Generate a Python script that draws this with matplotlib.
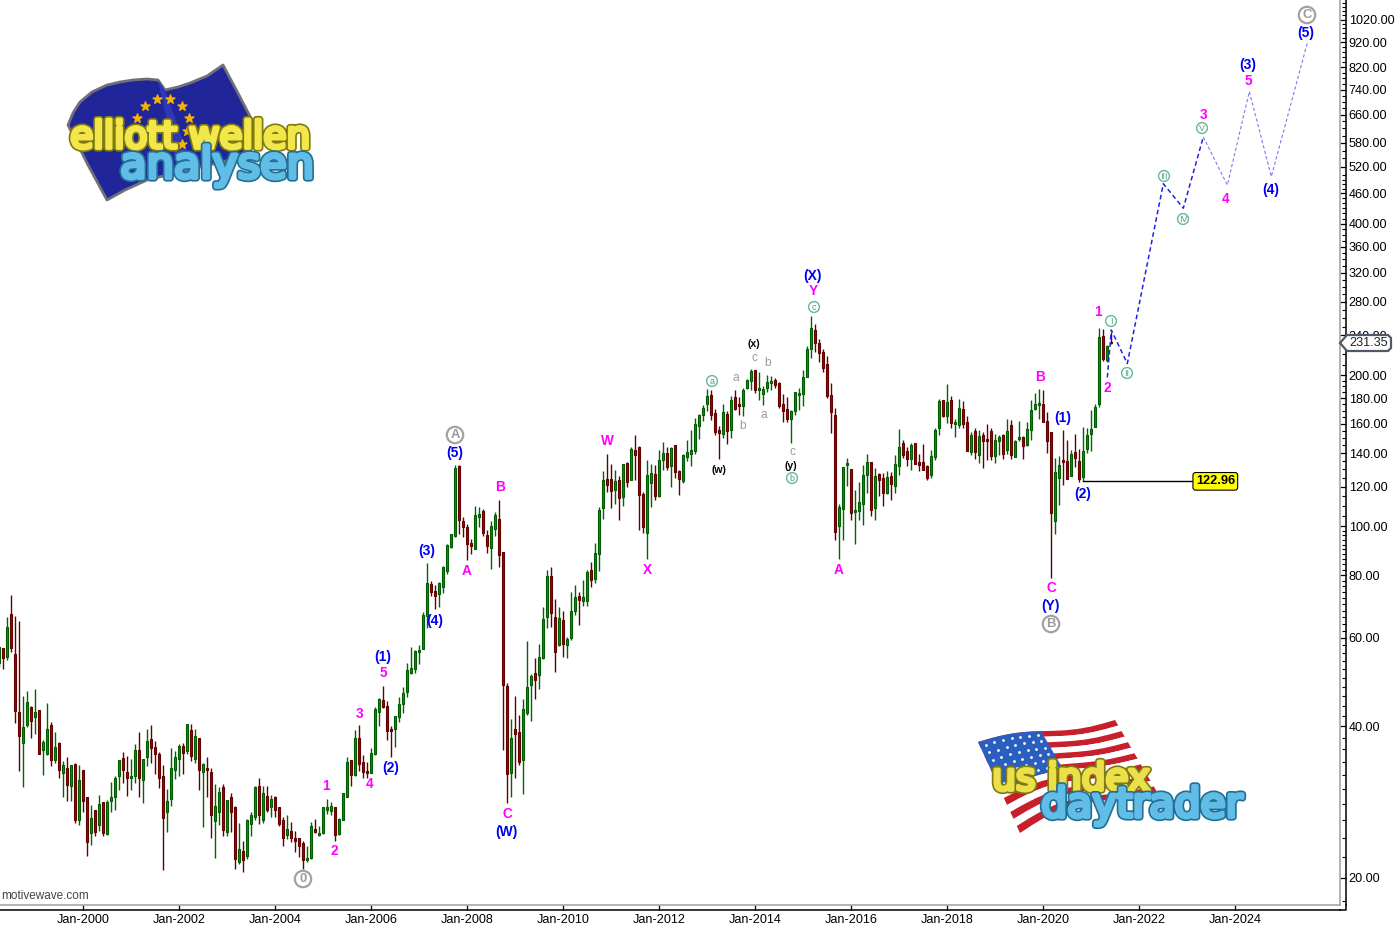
import numpy as np
import pandas as pd
import matplotlib
matplotlib.use("Agg")
import matplotlib.pyplot as plt
import matplotlib.patheffects as pe
from matplotlib.patches import Circle, Polygon
from matplotlib.ticker import FixedLocator, NullFormatter, FuncFormatter

plt.rcParams['font.family'] = ['Liberation Sans', 'DejaVu Sans']

# monthly candles, first one is Apr-1998
highs = [57.6,57.3,66.0,73.0,66.3,64.8,46.0,47.1,43.9,47.5,43.1,37.6,44.6,40.8,39.0,37.3,34.1,34.8,33.5,33.8,
 33.5,32.8,29.0,27.9,27.3,29.2,28.3,28.6,31.0,31.8,34.3,35.6,34.9,34.5,36.9,39.0,34.5,39.6,40.2,37.4,
 35.6,33.5,30.0,36.2,35.7,36.9,37.1,40.4,40.4,39.6,37.9,33.8,34.8,33.1,30.7,30.3,30.7,28.6,29.5,27.8,
 25.7,23.7,26.2,27.0,30.5,31.6,30.5,30.4,29.2,29.1,27.6,26.4,26.6,25.8,24.8,24.0,23.7,23.1,25.8,26.2,
 25.3,27.6,28.7,28.3,27.6,26.3,29.5,34.8,34.3,39.4,40.2,35.1,34.0,36.2,43.7,45.6,48.2,45.0,40.0,42.0,
 45.8,48.0,53.4,57.6,56.8,58.1,67.6,84.5,77.8,76.4,77.5,83.4,92.2,96.5,132.4,132.4,104.3,101.0,94.3,109.8,
 109.3,108.3,98.3,102.4,106.8,112.8,88.9,48.8,41.4,46.0,42.1,45.4,59.1,50.9,54.8,58.4,69.1,81.9,83.0,71.7,
 69.1,67.9,60.2,74.0,76.5,74.0,78.2,81.9,84.9,92.6,109.3,128.8,139.3,133.0,129.4,125.9,133.0,134.2,143.8,151.9,
 144.4,117.0,135.5,133.0,132.4,141.8,147.1,143.8,143.8,145.1,129.4,139.3,148.5,155.4,164.2,167.2,174.3,187.6,186.7,171.1,
 158.3,175.1,169.5,181.6,186.7,180.8,188.4,196.3,205.6,204.6,202.7,190.1,199.9,199.0,197.2,193.6,183.3,180.8,170.3,185.0,
 188.4,204.6,228.4,262.0,253.0,235.8,225.2,218.1,192.7,171.8,110.8,131.2,136.7,130.0,118.1,122.5,132.4,139.3,134.2,130.6,
 127.6,127.6,128.8,128.2,138.7,156.2,148.5,143.8,146.5,146.5,139.3,145.8,132.4,141.8,156.9,179.1,178.3,191.8,181.6,163.4,
 179.1,177.5,165.7,154.0,156.9,155.4,154.0,159.7,156.9,152.5,151.9,152.5,163.4,162.7,148.5,162.0,151.2,161.2,178.3,184.1,
 187.6,186.7,168.8,154.0,136.7,137.9,155.4,148.5,141.8,152.5,142.4,157.6,156.9,170.3,175.1,248.0,247.0,229.4,244.0]

lows = [52.5,52.0,54.2,56.3,40.6,32.6,30.3,39.8,37.9,38.7,35.3,32.0,35.1,33.3,33.8,31.6,28.9,28.4,28.4,25.7,
 25.4,27.0,22.1,23.2,24.2,24.8,24.2,24.3,27.0,27.3,29.9,30.9,29.1,29.9,30.9,28.9,28.2,33.3,33.8,32.2,
 30.2,20.7,24.7,27.8,31.4,31.9,32.2,35.3,34.1,33.8,29.9,25.2,29.0,24.0,21.9,25.4,24.2,24.2,24.7,20.8,
 21.3,20.5,21.8,24.2,26.0,25.6,25.7,27.0,26.4,26.4,25.3,23.1,23.9,23.5,22.5,22.0,20.8,21.5,21.8,24.5,
 24.2,24.4,26.8,26.6,23.7,24.3,26.0,28.9,30.5,31.8,32.6,31.5,31.6,32.3,35.1,40.0,43.5,37.6,34.8,36.4,
 40.8,42.5,45.8,50.9,51.1,53.2,57.1,62.8,72.7,68.5,69.1,73.7,80.4,90.5,95.2,96.5,95.2,85.7,88.1,90.1,
 99.7,95.6,88.5,82.3,95.6,83.0,35.9,28.2,29.0,31.6,33.5,29.3,42.1,41.0,45.4,47.5,54.5,62.8,63.0,51.3,
 57.8,55.0,54.8,59.4,66.6,63.6,69.4,69.4,75.7,77.1,81.5,103.4,117.0,108.8,110.8,102.9,109.8,119.7,123.6,123.6,
 98.3,96.9,86.1,109.3,112.8,114.4,129.4,129.4,119.7,124.7,115.4,121.9,134.9,131.8,139.3,149.2,162.0,169.5,162.7,151.9,
 136.1,149.9,145.8,149.9,170.3,166.5,165.7,187.6,186.7,184.1,178.3,174.3,185.0,186.7,188.4,171.8,161.2,161.2,146.5,166.5,
 170.3,173.5,198.1,216.0,222.0,212.0,202.7,180.0,153.3,93.9,86.1,93.9,120.3,102.9,92.2,102.9,100.5,116.5,104.8,102.9,
 114.9,109.8,115.9,112.8,116.5,126.5,136.7,131.8,129.4,133.0,128.8,129.4,123.6,124.7,135.5,151.9,164.9,160.4,156.9,150.5,
 156.9,156.9,141.2,138.7,136.1,133.6,130.6,135.5,135.5,133.6,138.7,136.1,139.3,136.1,137.4,147.8,136.1,144.4,148.5,170.3,
 163.4,161.2,139.9,78.9,96.5,110.3,120.8,124.2,125.9,131.2,122.5,122.96,139.9,141.2,157.6,173.0,213.0,212.0,231.0]

opens = [53.5,57.3,55.0,66.9,55.7,42.7,37.0,40.2,43.7,41.8,43.1,35.9,35.3,40.2,34.3,37.0,32.3,33.0,30.4,33.7,
 26.1,32.8,28.9,24.5,27.3,25.4,28.3,24.4,28.4,29.0,31.9,34.6,32.5,31.6,31.8,35.9,31.3,34.8,37.8,36.4,
 35.3,31.8,27.0,28.7,32.8,34.5,36.6,35.7,39.4,34.5,37.9,32.5,33.1,32.5,25.9,27.0,30.3,24.6,28.9,27.7,
 21.5,22.6,22.1,25.6,26.4,30.4,26.0,29.1,27.7,29.0,27.6,26.0,24.3,24.8,24.0,24.0,23.4,21.7,21.9,25.0,
 24.3,24.5,27.3,27.2,27.6,24.4,26.0,29.0,34.3,32.0,37.9,34.0,32.6,32.3,35.3,42.7,45.2,43.9,39.6,39.6,
 41.8,44.4,46.9,51.1,52.0,56.3,57.1,66.3,76.8,74.3,73.4,75.7,81.5,90.9,95.6,131.8,102.4,99.7,92.6,90.1,
 104.3,107.3,96.0,90.5,98.8,103.4,88.9,48.2,32.3,39.6,39.0,34.3,42.5,48.4,51.1,50.6,54.8,66.0,79.6,66.0,
 58.1,65.1,58.1,60.0,67.9,72.7,71.1,71.1,81.9,78.6,88.1,108.8,124.1,124.1,118.1,123.6,114.4,133.6,123.6,141.8,
 143.8,115.9,96.9,121.9,127.0,114.9,135.5,139.9,131.8,145.1,128.8,123.0,137.4,139.3,141.2,158.3,166.5,175.1,182.4,168.0,
 155.4,152.5,167.2,155.4,180.8,175.1,173.5,188.4,194.5,204.6,186.7,183.3,188.4,192.7,196.0,192.7,175.1,171.1,163.4,169.5,
 182.4,183.3,198.1,225.2,245.7,231.4,222.2,210.3,182.4,166.5,100.0,108.3,132.4,130.0,106.8,107.3,110.8,126.5,134.2,108.8,
 127.0,124.7,116.5,125.9,120.3,131.8,146.5,141.2,136.1,146.5,134.2,134.2,131.8,126.5,137.4,156.9,178.3,165.7,178.3,159.7,
 159.0,171.1,161.2,140.5,154.7,138.7,151.9,149.2,154.7,138.0,147.8,151.9,141.8,158.9,137.4,149.2,150.5,145.1,155.4,171.1,
 174.3,175.1,162.0,154.0,102.4,124.7,135.5,134.9,125.9,140.5,134.9,125.3,142.4,152.5,157.6,175.1,239.0,214.2,233.0]

closes = [57.6,54.7,63.1,57.3,42.9,38.2,39.8,44.8,41.0,42.7,35.3,37.3,39.6,34.3,36.4,32.8,33.5,30.6,33.5,26.0,
 31.3,28.4,23.5,26.3,24.7,28.0,24.5,28.3,29.0,31.5,34.3,32.8,31.6,31.9,35.9,31.6,34.5,37.4,36.2,35.3,
 31.6,26.3,28.4,33.0,34.8,36.6,35.4,40.4,34.9,38.2,32.8,33.7,32.8,26.6,27.8,29.6,24.9,28.6,27.0,21.8,
 22.8,21.7,26.1,26.6,30.3,26.6,29.5,27.3,28.7,27.3,25.6,24.0,25.0,24.0,23.7,23.1,21.7,21.9,25.3,24.6,
 24.5,27.6,27.7,27.8,24.3,26.2,29.5,34.0,32.0,37.9,33.7,32.5,32.3,35.4,43.3,45.4,43.7,39.2,39.2,42.0,
 44.4,46.7,51.8,52.3,56.5,56.8,66.6,77.1,74.0,72.7,77.1,83.0,91.8,96.5,130.6,102.9,99.7,92.2,91.3,105.3,
 105.8,96.9,91.3,100.1,105.3,87.7,48.4,32.1,37.9,38.7,34.0,43.3,47.9,50.4,49.5,55.0,65.4,79.6,67.2,56.3,
 65.7,58.4,59.7,67.9,72.4,71.4,72.4,81.1,78.2,88.5,107.8,123.6,121.0,117.5,123.0,113.8,133.0,122.5,142.4,138.7,
 115.4,99.7,126.5,127.6,114.9,135.5,139.9,131.2,143.1,128.2,124.2,138.7,140.5,141.8,159.7,166.5,171.8,181.6,166.5,154.0,
 153.3,168.8,154.7,178.3,171.1,173.5,186.7,195.4,203.7,186.7,188.4,187.6,193.6,194.5,191.0,173.5,169.5,163.4,169.5,185.0,
 184.2,198.1,225.2,248.0,231.4,221.2,206.5,181.6,168.8,97.4,109.3,131.2,133.6,106.3,107.8,111.8,126.5,134.2,107.8,125.9,
 123.6,116.5,125.3,121.4,133.0,143.8,138.7,136.1,145.1,133.0,132.4,129.4,124.7,137.9,155.4,177.5,165.7,176.7,160.4,161.2,
 171.9,159.7,141.2,151.9,140.5,151.2,147.8,147.8,138.0,148.5,150.5,139.3,154.7,138.7,147.8,150.5,144.4,156.2,170.3,175.1,
 175.9,161.2,147.8,106.3,128.2,132.4,134.2,124.2,139.3,136.7,124.2,141.2,151.9,156.2,172.7,238.0,215.0,228.4,231.35]

months = pd.date_range("1998-04-01", periods=340, freq="MS")
last_price = 231.35
level_price = 122.96

# projected wave count, month index and price
proj_dark_x = [277, 278, 282, 291, 296, 301]
proj_dark_y = [198, 246, 211, 481, 430, 596]
proj_light_x = [301, 307, 312.5, 318, 327]
proj_light_y = [596, 478, 734, 497, 917]

price_ticks = [20, 40, 60, 80, 100, 120, 140, 160, 180, 200, 240, 280, 320, 360, 400,
               460, 520, 580, 660, 740, 820, 920, 1020]
minor_ticks = list(range(18, 100, 2)) + list(range(100, 200, 5)) + \
              list(range(200, 500, 10)) + list(range(500, 1120, 20))

W, H = 1399, 927
fig = plt.figure(figsize=(W / 100, H / 100), dpi=100, facecolor='white')
ax = fig.add_axes([0, (H - 905) / H, 1340 / W, 905 / H])
ax.set_yscale('log')
ax.set_xlim(0.17, 335.17)
ax.set_ylim(17.64, 1116.5)

x = np.arange(len(highs))
o = np.array(opens)
c = np.array(closes)
up = c >= o
wick = np.where(up, '#006400', '#650000')
ax.vlines(x, lows, highs, colors=wick, lw=1.0, zorder=2)
ax.bar(x[up], (c - o)[up], bottom=o[up], width=0.56, color='#0b8f14', edgecolor='#005c00', lw=0.8, zorder=3)
ax.bar(x[~up], (o - c)[~up], bottom=c[~up], width=0.56, color='#aa0000', edgecolor='#650000', lw=0.8, zorder=3)

ax.plot(proj_dark_x, proj_dark_y, color='#2020e8', lw=1.1, ls=(0, (3, 2)), zorder=4)
ax.plot(proj_light_x, proj_light_y, color='#7c7cf4', lw=0.8, ls=(0, (3, 2)), zorder=4)
ax.plot([271, 299], [level_price, level_price], color='black', lw=1.0, zorder=4)
ax.text(304, level_price, f"{level_price:.2f}", fontsize=9.2, fontweight='bold', ha='center', va='center',
        bbox=dict(boxstyle='round,pad=0.22', fc='#ffff00', ec='black', lw=0.8), zorder=5)

# axes, the black lines sit a few pixels outside the grey frame
for s in ['top', 'left']:
    ax.spines[s].set_visible(False)
ax.spines['right'].set_position(('outward', 4.4))
ax.spines['bottom'].set_position(('outward', 3.6))
ax.spines['right'].set_linewidth(1.1)
ax.spines['bottom'].set_linewidth(1.1)
ax.axvline(335.17, color='#a8a8a0', lw=1.2, clip_on=False)
ax.axhline(17.64, color='#a8a8a0', lw=1.2, clip_on=False)

ax.yaxis.tick_right()
ax.yaxis.set_major_locator(FixedLocator(price_ticks))
ax.yaxis.set_major_formatter(FuncFormatter(lambda v, p: f"{v:.2f}"))
ax.yaxis.set_minor_locator(FixedLocator(minor_ticks))
ax.yaxis.set_minor_formatter(NullFormatter())
ax.tick_params(axis='y', which='major', direction='in', length=4.4, width=0.9, pad=1.8, labelsize=9.1)
ax.tick_params(axis='y', which='minor', direction='in', length=2.6, width=0.8)

tick_idx = list(range(21, 330, 24))
ax.set_xticks(tick_idx)
ax.set_xticklabels([months[i].strftime("%b-%Y") for i in tick_idx])
ax.tick_params(axis='x', direction='in', length=3.6, width=0.9, pad=3, labelsize=9.1)

# overlay in picture pixels for wave labels and logos
ov = fig.add_axes([0, 0, 1, 1], facecolor='none')
ov.set_xlim(0, W)
ov.set_ylim(H, 0)
ov.axis('off')
ov.plot([1340, 1346.2, 1346.2], [910, 910, 905], color='black', lw=1.1)

blue_labels = [("(X)", 812, 276), ("(5)", 455, 453), ("(3)", 427, 551), ("(4)", 435, 621), ("(1)", 383, 657),
               ("(2)", 391, 768), ("(W)", 506, 832), ("(1)", 1063, 418), ("(2)", 1083, 494), ("(Y)", 1051, 606),
               ("(3)", 1248, 65), ("(4)", 1271, 190), ("(5)", 1306, 33)]
pink_labels = [("Y", 813, 291), ("1", 326, 786), ("2", 334, 851), ("3", 359, 714), ("4", 370, 784), ("5", 383, 673),
               ("A", 467, 571), ("B", 500, 487), ("C", 507, 814), ("W", 607, 441), ("X", 647, 570), ("A", 839, 570),
               ("B", 1040, 377), ("C", 1051, 588), ("1", 1098, 312), ("2", 1107, 388), ("3", 1203, 115),
               ("4", 1226, 199), ("5", 1248, 81)]
black_labels = [("(x)", 754, 344), ("(w)", 719, 470), ("(y)", 791, 466)]
grey_labels = [("c", 754, 358), ("b", 768, 363), ("a", 736, 378), ("b", 743, 426), ("a", 764, 415), ("c", 792, 452)]
big_circles = [("0", 303, 879), ("A", 455, 435), ("B", 1051, 624), ("C", 1307, 15)]
small_circles = [("a", 712, 381), ("b", 792, 478), ("c", 814, 307), ("I", 1111, 321), ("II", 1127, 373),
                 ("III", 1164, 176), ("IV", 1183, 219), ("V", 1202, 128)]

for t, px, py in blue_labels:
    ov.text(px, py, t, color='#0000f0', fontsize=10, fontweight='bold', ha='center', va='center')
for t, px, py in pink_labels:
    ov.text(px, py, t, color='#ff00ff', fontsize=9.8, fontweight='bold', ha='center', va='center')
for t, px, py in black_labels:
    ov.text(px, py, t, color='black', fontsize=7.6, fontweight='bold', ha='center', va='center')
for t, px, py in grey_labels:
    ov.text(px, py, t, color='#9a9a9a', fontsize=8.6, ha='center', va='center')
for t, px, py in big_circles:
    ov.add_patch(Circle((px, py), 8.2, fc='white', ec='#a2a2a2', lw=1.6))
    ov.text(px, py, t, color='#9a9a9a', fontsize=9.4, fontweight='bold', ha='center', va='center')
for t, px, py in small_circles:
    ov.add_patch(Circle((px, py), 5.4, fc='white', ec='#62b898', lw=1.0))
    ov.text(px, py, t, color='#5a9a80', fontsize=6.4, ha='center', va='center')

ov.text(1, 896, "motivewave.com", color='#444444', fontsize=8.5, ha='left', va='center')

# last price tag
tag = [(1340, 343), (1347, 335), (1388, 335), (1391, 338), (1391, 348), (1388, 351), (1347, 351)]
ov.add_patch(Polygon(tag, closed=True, fc='white', ec='#4f5a66', lw=1.6, zorder=6))
ov.text(1369, 343.5, f"{last_price:.2f}", color='#222222', fontsize=9.1, ha='center', va='center', zorder=7)

def logo_text(px, py, t, size, fill, edge, z):
    ov.text(px, py, t, fontsize=size, color=fill, ha='center', va='baseline', zorder=z, family='DejaVu Sans',
            path_effects=[pe.Stroke(linewidth=5.2, foreground=edge, joinstyle='round'),
                          pe.Stroke(linewidth=2.8, foreground=fill, joinstyle='round'), pe.Normal()])

# elliott wellen logo
eu = [(68, 125), (73, 113), (80, 102), (92, 92), (107, 85), (120, 82), (133, 80), (147, 79), (158, 80), (165, 90),
      (178, 87), (190, 83), (207, 76), (223, 65), (240, 97), (257, 130), (250, 150), (230, 160), (205, 166),
      (183, 171), (147, 180), (125, 190), (107, 200), (88, 165)]
ov.add_patch(Polygon(eu, closed=True, fc='#20259a', ec='#70707a', lw=2, joinstyle='round', zorder=1))
ov.add_patch(Polygon([(158, 80), (165, 90), (190, 160), (178, 172)], closed=True, fc='#2f37b8', ec='none', zorder=1))
star_x = [145, 157, 170, 182, 189, 187, 182, 137]
star_y = [106, 99, 99, 106, 118, 131, 144, 118]
ov.scatter(star_x, star_y, marker='*', s=45, color='#f6b400', zorder=2)
logo_text(190, 148, "elliott wellen", 27, '#f3e64a', '#7e7a10', 3)
logo_text(217, 178, "analysen", 31, '#62bde6', '#1f6f96', 4)

# us flag logo, stripes on a bent four corner sheet
def flag_point(u, v):
    tl, tr, br, bl = np.array([978, 742]), np.array([1115, 720]), np.array([1157, 792]), np.array([1020, 833])
    p = (1 - v) * ((1 - u) * tl + u * tr) + v * ((1 - u) * bl + u * br)
    p = p + np.array([0, -3 * np.sin(2 * np.pi * u) - 10 * v * np.sin(np.pi * u)])
    return p

def flag_patch(u0, u1, v0, v1, col):
    us = np.linspace(u0, u1, 12)
    top = [flag_point(u, v0) for u in us]
    bot = [flag_point(u, v1) for u in us[::-1]]
    ov.add_patch(Polygon(top + bot, closed=True, fc=col, ec='none', zorder=1))

n_stripes = 13
for k in range(n_stripes):
    flag_patch(0, 1, k / n_stripes, (k + 1) / n_stripes, '#c8202a' if k % 2 == 0 else 'white')
flag_patch(0, 0.46, 0, 7 / 13, '#2a5fc0')
for a in np.linspace(0.04, 0.42, 7):
    for b in np.linspace(0.05, 0.48, 6):
        p = flag_point(a, b)
        ov.scatter(p[0], p[1], s=4, color='white', marker='o', lw=0, zorder=2)
logo_text(1071, 790, "us index", 27, '#ece04a', '#7e7a10', 3)
logo_text(1142, 817, "daytrader", 29.5, '#62bde6', '#1f6f96', 4)

fig.savefig("out.png", dpi=100)
